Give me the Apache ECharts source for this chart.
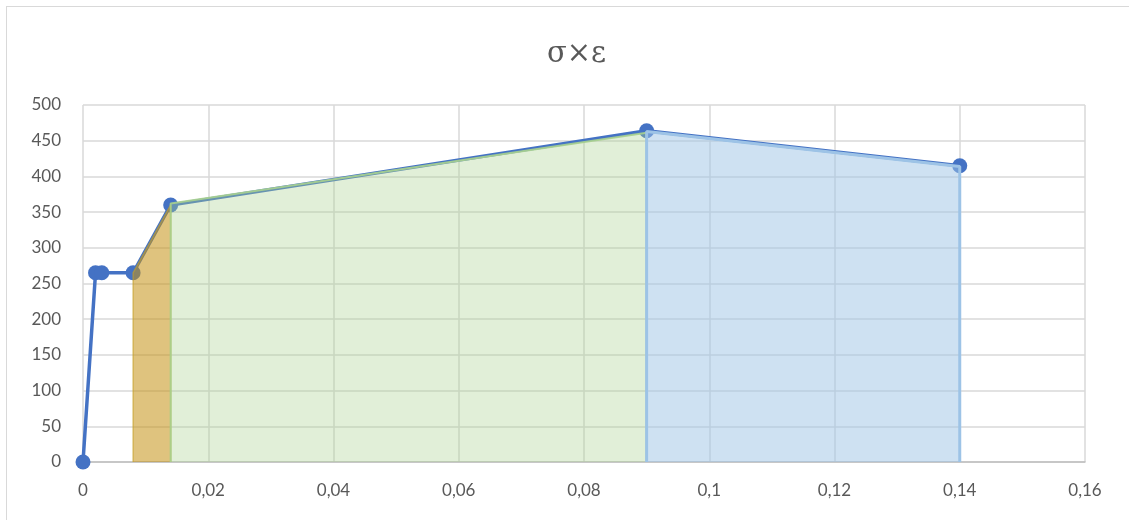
<!DOCTYPE html>
<html>
<head>
<meta charset="utf-8">
<title>σ×ε</title>
<script src="https://cdn.jsdelivr.net/npm/echarts@6/dist/echarts.min.js"></script>
<style>
  html, body { margin: 0; padding: 0; background: #fff; overflow: hidden; }
  #frame { position: absolute; left: 6px; top: 6px; width: 1200px; height: 600px; border: 1px solid #d9d9d9; box-sizing: border-box; }
  #chart { position: absolute; left: 0; top: 0; width: 1129px; height: 520px; }
</style>
</head>
<body>
<div id="frame"></div>
<div id="chart"></div>
<script>
// Stress–strain curve (strain ε, stress σ)
const strain = [0, 0.002, 0.003, 0.008, 0.014, 0.09, 0.14];
const stress = [0, 265, 265, 265, 360, 464, 415];

// Shaded regions under the curve
const zoneA = [[0.008, 0], [0.008, 265], [0.014, 360], [0.014, 0]];
const zoneB = [[0.014, 0], [0.014, 362], [0.09, 461], [0.09, 0]];
const zoneC = [[0.09, 0], [0.09, 463], [0.14, 414], [0.14, 0]];

const xTicks = { min: 0, max: 0.16, step: 0.02 };
const yTicks = { min: 0, max: 500, step: 50 };

const curve = strain.map((e, i) => [e, stress[i]]);
const font = 'Lato, "Open Sans", "Noto Sans", sans-serif';

function zone(data, line, fill, width) {
  return {
    type: 'line', data: data, z: 3, symbol: 'none', silent: true,
    lineStyle: { color: line, width: width },
    areaStyle: { color: fill, origin: 'start', opacity: 1 }
  };
}

const chart = echarts.init(document.getElementById('chart'), null, { renderer: 'canvas' });
chart.setOption({
  animation: false,
  backgroundColor: 'transparent',
  title: {
    text: 'σ×ε', left: 542, top: 35,
    textStyle: { color: '#595959', fontSize: 29, fontWeight: 'normal', fontFamily: '"DejaVu Serif", serif' }
  },
  grid: { left: 83, right: 44, top: 105, bottom: 58, containLabel: false },
  xAxis: {
    type: 'value', min: xTicks.min, max: xTicks.max, interval: xTicks.step,
    axisLine: { show: true, onZero: false, lineStyle: { color: '#bfbfbf', width: 1.5 } },
    axisTick: { show: false },
    splitLine: { show: true, lineStyle: { color: '#d9d9d9', width: 1.5 } },
    axisLabel: {
      color: '#595959', fontSize: 17, fontFamily: font, margin: 20,
      formatter: v => String(Number(v.toFixed(2))).replace('.', ',')
    }
  },
  yAxis: {
    type: 'value', min: yTicks.min, max: yTicks.max, interval: yTicks.step,
    axisLine: { show: false },
    axisTick: { show: false },
    splitLine: { show: true, lineStyle: { color: '#d9d9d9', width: 1.5 } },
    axisLabel: { color: '#595959', fontSize: 17, fontFamily: font, margin: 22 }
  },
  series: [
    {
      type: 'line', data: curve, z: 2,
      symbol: 'circle', symbolSize: 15,
      itemStyle: { color: '#4472c4' },
      lineStyle: { color: '#4472c4', width: 3.5 }
    },
    zone(zoneA, 'rgba(196,160,40,0.6)', 'rgba(196,145,20,0.55)', 1.5),
    zone(zoneB, 'rgba(169,209,142,0.9)', 'rgba(169,209,142,0.35)', 2),
    zone(zoneC, 'rgba(157,195,230,1)', 'rgba(157,195,230,0.5)', 3)
  ]
});
</script>
</body>
</html>
